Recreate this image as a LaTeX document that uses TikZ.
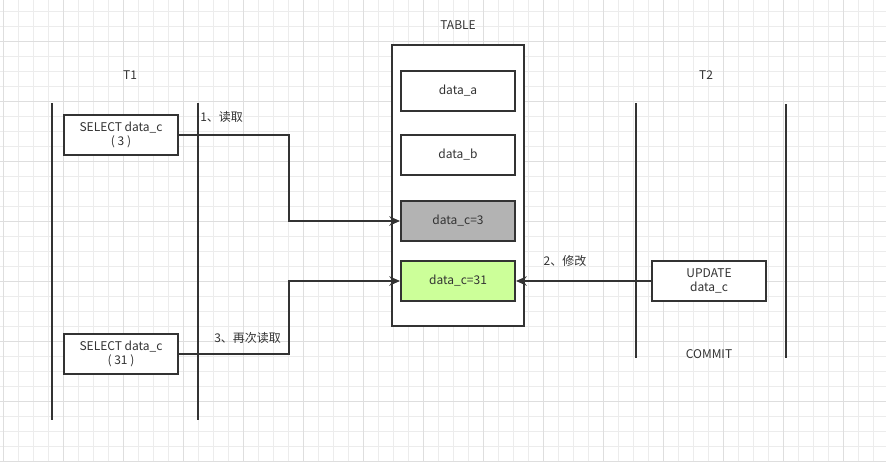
\documentclass[tikz,border=0pt]{standalone}
\usepackage{fontspec}
\setmainfont{Noto Sans CJK SC}
\usetikzlibrary{arrows.meta}
\definecolor{lignes}{RGB}{51,51,51}
\definecolor{grille}{RGB}{236,236,236}
\definecolor{grilleb}{RGB}{222,222,222}
\definecolor{grisc}{RGB}{179,179,179}
\definecolor{vertc}{RGB}{204,255,153}

\begin{document}
\begin{tikzpicture}[x=0.75pt,y=-0.75pt,
  boite/.style={draw=lignes,line width=1.5pt,minimum width=85.5pt,minimum height=30pt,
    inner sep=0pt,align=center,text=lignes,font=\fontsize{9}{11}\selectfont},
  txt/.style={text=lignes,inner sep=0pt,font=\fontsize{9}{11}\selectfont},
  vie/.style={draw=lignes,line width=1.5pt},
  fleche/.style={draw=lignes,line width=1.2pt,-{Stealth[length=8pt,width=7pt,inset=2.5pt]}}]
\useasboundingbox (0,0) rectangle (886,462);
\fill[white] (0,0) rectangle (886,462);

% grille
\foreach \x in {3.3,18.3,...,886} \draw[grille,line width=0.75pt] (\x,0)--(\x,462);
\foreach \y in {11.7,26.7,...,462} \draw[grille,line width=0.75pt] (0,\y)--(886,\y);
\foreach \x in {3.3,63.3,...,886} \draw[grilleb,line width=0.75pt] (\x,0)--(\x,462);
\foreach \y in {41.7,101.7,...,462} \draw[grilleb,line width=0.75pt] (0,\y)--(886,\y);

% T1
\node[txt] (t1) at (130,75) {T1};
\draw[vie] (52,103)--(52,420);
\draw[vie] (198,103)--(198,420);
\node[boite,fill=white] (sel1) at (121,135) {SELECT data\_c\\( 3 )};
\node[boite,fill=white] (sel2) at (121,354) {SELECT data\_c\\( 31 )};

% TABLE
\node[txt] (tab) at (458,25) {TABLE};
\node[boite,fill=white,minimum width=99pt,minimum height=210.75pt] (tbl) at (458,185.5) {};
\node[boite] (da) at (458,91) {data\_a};
\node[boite] (db) at (458,155) {data\_b};
\node[boite,fill=grisc] (dc) at (458,221) {data\_c=3};
\node[boite,fill=vertc] (dcn) at (458,281) {data\_c=31};

% T2
\node[txt] (t2) at (706,75) {T2};
\draw[vie] (636,103)--(636,358);
\draw[vie] (786,104)--(786,358);
\node[boite,fill=white] (upd) at (709,281) {UPDATE\\data\_c};
\node[txt] (commit) at (709,354) {COMMIT};

% fleches
\coordinate (k1) at (289,135);
\coordinate (k3) at (289,354);
\draw[fleche] (sel1.east) -- (k1) |- (dc.west);
\draw[fleche] (sel2.east) -- (k3) |- (dcn.west);
\draw[fleche] (upd.west) -- (dcn.east);
\node[txt,anchor=west] (l1) at (200,117) {1、读取};
\node[txt] (l2) at (565,261) {2、修改};
\node[txt,anchor=west] (l3) at (214,338) {3、再次读取};

\end{tikzpicture}
\end{document}
